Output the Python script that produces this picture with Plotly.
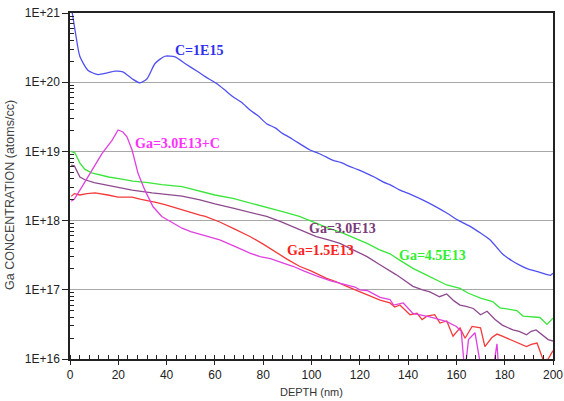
import numpy as np
import plotly.graph_objects as go

# ---- data (depth in nm, concentration as log10 of atoms/cc) ----
c_x = [0.5, 2.1, 4.1, 7.5, 11.6, 15, 18.6, 21.9, 25.7, 29, 31.9, 35.2, 39.3, 43.5, 47.6, 53, 56,
       60.7, 64, 67.5, 71, 74.5, 78, 81.4, 85, 88, 92, 96, 99.4, 103, 106, 109, 112, 116, 119,
       123, 126, 129.6, 133, 136.6, 141, 146, 151, 156, 161, 166, 170, 174, 177, 179, 183, 186,
       189, 191.7, 194, 197.5, 199, 200]
c_log10 = [21.1, 20.75, 20.37, 20.17, 20.11, 20.13, 20.16, 20.15, 20.05, 19.99, 20.05, 20.27,
           20.375, 20.365, 20.27, 20.15, 20.08, 19.98, 19.89, 19.79, 19.71, 19.60, 19.51, 19.40,
           19.34, 19.26, 19.18, 19.09, 19.02, 18.97, 18.92, 18.87, 18.84, 18.78, 18.74, 18.68,
           18.63, 18.56, 18.51, 18.44, 18.38, 18.30, 18.21, 18.11, 18.00, 17.91, 17.82, 17.72,
           17.60, 17.52, 17.42, 17.36, 17.31, 17.28, 17.26, 17.22, 17.21, 17.24]

g45_x = [0.5, 2, 4.1, 6.2, 9, 11.6, 16, 21.5, 26, 32.3, 38, 46.4, 50, 53.8, 60, 67.5, 74, 81.4,
         88, 95, 102, 107, 113, 118, 123, 128, 132.5, 136, 142, 146, 150, 156, 161.5, 165, 170,
         175, 178, 182, 185, 187.6, 191, 194.6, 197.5, 200]
g45_log10 = [19.0, 18.98, 18.83, 18.74, 18.69, 18.67, 18.63, 18.60, 18.57, 18.55, 18.52, 18.49,
             18.46, 18.42, 18.37, 18.32, 18.26, 18.20, 18.13, 18.06, 17.96, 17.89, 17.82, 17.75,
             17.67, 17.58, 17.52, 17.44, 17.31, 17.24, 17.17, 17.07, 17.02, 16.95, 16.88, 16.83,
             16.74, 16.72, 16.70, 16.62, 16.61, 16.60, 16.50, 16.59]

g30_x = [0.5, 1.8, 4.1, 6.2, 10, 15.7, 20, 25.7, 34, 40, 46.4, 53.8, 60, 67.5, 74, 81.4, 87,
         92.3, 97, 102, 107, 111.8, 117, 123, 128, 132.5, 135, 138, 142, 146, 149, 153, 156,
         159, 161.5, 164, 167, 170, 172.7, 176, 179, 183.4, 186, 189, 191, 193, 196, 198, 200]
g30_log10 = [18.80, 18.79, 18.63, 18.59, 18.55, 18.51, 18.48, 18.44, 18.40, 18.38, 18.355,
             18.30, 18.24, 18.18, 18.12, 18.06, 17.99, 17.91, 17.84, 17.77, 17.72, 17.67, 17.58,
             17.48, 17.37, 17.28, 17.22, 17.15, 17.05, 17.00, 16.97, 16.90, 16.94, 16.84, 16.78,
             16.76, 16.73, 16.64, 16.69, 16.57, 16.49, 16.42, 16.40, 16.35, 16.40, 16.42, 16.33,
             16.28, 16.26]

g15_x = [0.5, 1.8, 4.1, 7, 10.4, 13, 15.7, 19.9, 25.7, 29, 32.3, 36, 39.3, 43, 46.4, 51, 53.8,
         56, 62, 68, 74.5, 80, 85.7, 90, 95, 100, 106, 110, 114.6, 118, 123, 128.4, 132.5,
         134.5, 136.6, 140.8, 143.7, 145.8, 147.8, 151, 153.2, 156, 158.6, 161.5, 163.6, 166.5,
         170, 171.8, 174.7, 176.8, 179, 181, 183, 185, 187, 189, 191, 193.4, 196, 198, 200]
g15_log10 = [18.35, 18.39, 18.37, 18.39, 18.40, 18.39, 18.37, 18.34, 18.34, 18.31, 18.29, 18.26,
             18.23, 18.19, 18.15, 18.10, 18.08, 18.06, 17.98, 17.88, 17.77, 17.66, 17.53, 17.44,
             17.34, 17.27, 17.17, 17.12, 17.05, 17.00, 16.93, 16.85, 16.81, 16.75, 16.78, 16.64,
             16.66, 16.57, 16.62, 16.64, 16.52, 16.55, 16.33, 16.45, 16.30, 16.47, 16.45, 16.18,
             16.31, 16.36, 16.33, 16.30, 16.28, 16.25, 16.22, 16.18, 16.21, 16.23, 15.98, 16.0,
             16.12]

g30c_x = [0.5, 1.8, 5, 9.1, 13.3, 17.4, 19.9, 21.9, 23.6, 25.7, 28.2, 31, 34.4, 38, 41, 46.4,
          50, 54.7, 58, 62, 68, 74.5, 78.7, 83, 88, 92.3, 97, 102, 108, 114.6, 118, 120, 123,
          128.4, 132.5, 134, 138, 142, 145, 149, 152, 156, 160, 162, 163.5, 165, 167.7, 170.5,
          172, 175, 176.8, 178, 182, 190, 200]
g30c_log10 = [18.28, 18.31, 18.49, 18.73, 18.97, 19.16, 19.31, 19.28, 19.21, 19.02, 18.68, 18.44,
              18.20, 18.06, 18.0, 17.89, 17.84, 17.79, 17.76, 17.72, 17.63, 17.53, 17.48, 17.45,
              17.39, 17.34, 17.27, 17.20, 17.13, 17.07, 17.04, 17.0, 16.99, 16.89, 16.86, 16.78,
              16.81, 16.66, 16.64, 16.61, 16.58, 16.54, 16.47, 16.40, 15.8, 16.28, 16.38, 15.8,
              15.5, 15.8, 16.22, 15.6, 15.5, 15.5, 15.5]

y_tick_vals = [1e16, 1e17, 1e18, 1e19, 1e20, 1e21]
y_tick_text = ["1E+16", "1E+17", "1E+18", "1E+19", "1E+20", "1E+21"]
x_tick_vals = [0, 20, 40, 60, 80, 100, 120, 140, 160, 180, 200]

series = [
    ("C=1E15", c_x, c_log10, "#5050f2", "spline"),
    ("Ga=4.5E13", g45_x, g45_log10, "#3ae63a", "linear"),
    ("Ga=3.0E13", g30_x, g30_log10, "#8e4a8e", "linear"),
    ("Ga=1.5E13", g15_x, g15_log10, "#f53a3a", "linear"),
    ("Ga=3.0E13+C", g30c_x, g30c_log10, "#e040e0", "linear"),
]

labels = [
    ("C=1E15", 42.5, 20.46, "#3030f0"),
    ("Ga=3.0E13+C", 26.0, 19.12, "#ff30ff"),
    ("Ga=3.0E13", 98.0, 17.89, "#7a3a7a"),
    ("Ga=1.5E13", 89.0, 17.57, "#ff2020"),
    ("Ga=4.5E13", 135.5, 17.49, "#30f030"),
]

fig = go.Figure()
for name, xs, ls, col, shp in series:
    line = dict(color=col, width=1.3, shape=shp)
    if shp == "spline":
        line["smoothing"] = 0.6
    fig.add_trace(go.Scatter(x=xs, y=np.power(10.0, np.array(ls)), mode="lines", name=name,
                             line=line, showlegend=False))

for txt, lx, ly, col in labels:
    fig.add_annotation(x=lx, y=ly, xref="x", yref="y", text="<b>" + txt + "</b>",
                       showarrow=False, xanchor="left", yanchor="middle",
                       font=dict(family="Liberation Serif, Times New Roman, serif", size=14,
                                 color=col))

fig.add_annotation(x=0.5, y=0, xref="paper", yref="paper", yshift=-33, text="DEPTH (nm)",
                   showarrow=False, xanchor="center", yanchor="middle",
                   font=dict(family="Liberation Sans", size=11, color="#333"))
fig.add_annotation(x=0, y=0.474, xref="paper", yref="paper", xshift=-60,
                   text="Ga CONCENTRATION (atoms/cc)", textangle=-90,
                   showarrow=False, xanchor="center", yanchor="middle",
                   font=dict(family="Liberation Sans", size=12.5, color="#444"))

minor_y = [m * 10.0 ** e for e in range(16, 21) for m in range(2, 10)]

fig.update_layout(
    width=564, height=401,
    margin=dict(l=70, r=11, t=13, b=42, autoexpand=False),
    paper_bgcolor="white", plot_bgcolor="white",
    font=dict(family="Liberation Sans", size=12, color="#222"),
    xaxis=dict(range=[0, 200], tickvals=x_tick_vals, showgrid=False, zeroline=False,
               automargin=False,
               showline=True, linecolor="#222", linewidth=1.5, mirror=True,
               ticks="outside", ticklen=4, tickcolor="#222",
               minor=dict(dtick=4, ticks="inside", ticklen=4, tickcolor="#222", showgrid=False),
               tickfont=dict(size=12, color="#222")),
    yaxis=dict(type="log", range=[16, 21], tickvals=y_tick_vals, ticktext=y_tick_text,
               automargin=False,
               showgrid=True, gridcolor="#a8a8a8", gridwidth=1.2, zeroline=False,
               showline=True, linecolor="#222", linewidth=1.5, mirror=True,
               ticks="outside", ticklen=6, tickcolor="#222",
               minor=dict(tickvals=minor_y, ticks="inside", ticklen=4, tickcolor="#222",
                          showgrid=False),
               tickfont=dict(size=12, color="#222")),
)

fig.write_html("out.html")
